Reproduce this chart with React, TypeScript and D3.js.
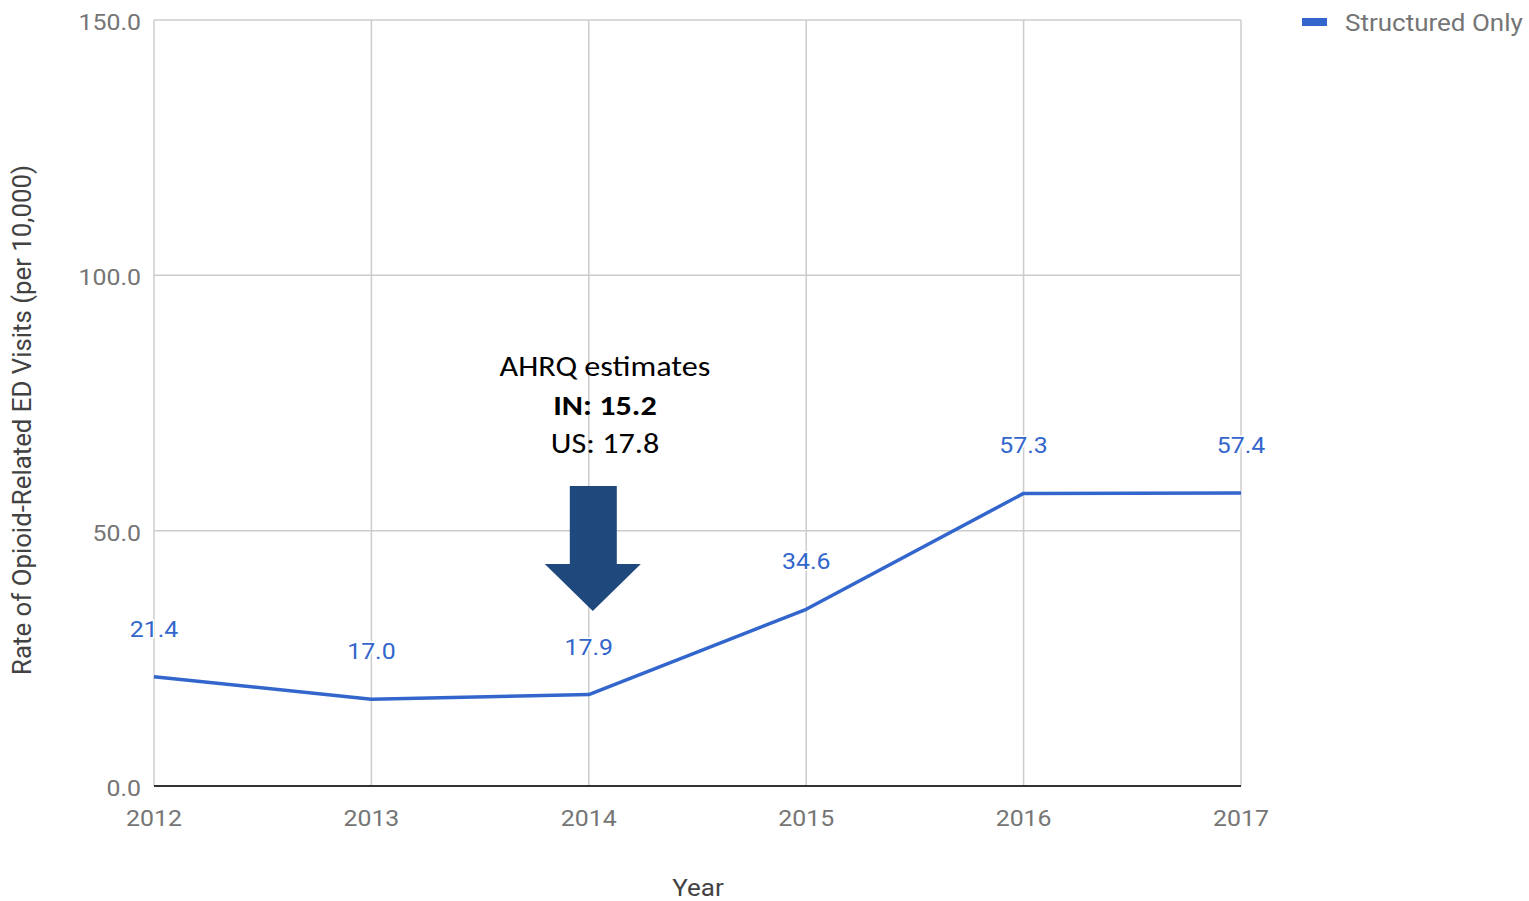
import React from "react";
import * as d3 from "d3";

const years = [2012, 2013, 2014, 2015, 2016, 2017];
const structuredOnly = [21.4, 17.0, 17.9, 34.6, 57.3, 57.4];
const yTicks = [0, 50, 100, 150];
const seriesName = "Structured Only";
const annotationLines = ["AHRQ estimates", "IN: 15.2", "US: 17.8"];

const SX = 1.13;

function T({ x, y, children, ...rest }: any) {
  return (
    <text transform={`translate(${x},${y}) scale(${SX},1)`} {...rest}>
      {children}
    </text>
  );
}

export default function App() {
  const W = 1529, H = 901;
  const left = 154, right = 1241, top = 20, bottom = 786;
  const x = d3.scalePoint<number>().domain(years).range([left, right]);
  const y = d3.scaleLinear().domain([0, 150]).range([bottom, top]);
  const line = d3.line<number>().x((_, i) => x(years[i])!).y((d) => y(d));
  const font = "Roboto, sans-serif";
  const blue = "#3366cc";
  const ax = x(2014)! + 4;
  return (
    <svg width={W} height={H} style={{ position: "absolute", left: 0, top: 0 }}>
      <rect width={W} height={H} fill="#fff" />
      {yTicks.map((t) => (
        <g key={t}>
          {t !== 0 && <line x1={left} x2={right} y1={y(t)} y2={y(t)} stroke="#cccccc" strokeWidth={1.5} />}
          <T x={141} y={y(t) + 10} textAnchor="end" fontFamily={font} fontSize={22} fill="#757575">
            {t.toFixed(1)}
          </T>
        </g>
      ))}
      {years.map((yr) => (
        <g key={yr}>
          <line x1={x(yr)} x2={x(yr)} y1={top} y2={bottom} stroke="#cccccc" strokeWidth={1.5} />
          <T x={x(yr)} y={826} textAnchor="middle" fontFamily={font} fontSize={22} fill="#757575">
            {yr}
          </T>
        </g>
      ))}
      <line x1={left} x2={right} y1={bottom} y2={bottom} stroke="#333" strokeWidth={2} />
      <path d={line(structuredOnly) || ""} fill="none" stroke={blue} strokeWidth={3.5} strokeLinejoin="round" />
      {structuredOnly.map((v, i) => (
        <T key={i} x={x(years[i])} y={y(v) - 40} textAnchor="middle" fontFamily={font} fontSize={22} fill={blue}
          stroke="#fff" strokeWidth={3} paintOrder="stroke">
          {v.toFixed(1)}
        </T>
      ))}
      <T x={698} y={896} textAnchor="middle" fontFamily={font} fontSize={23} fill="#424242">Year</T>
      <text transform={`translate(31,${(top + bottom) / 2 + 17}) rotate(-90)`} textAnchor="middle" fontFamily={font} fontSize={25.8} fill="#424242">
        Rate of Opioid-Related ED Visits (per 10,000)
      </text>
      <rect x={1302} y={18} width={25} height={8} fill={blue} />
      <T x={1345} y={31} fontFamily={font} fontSize={23} fill="#757575">{seriesName}</T>
      <path d={`M${ax - 23},486 L${ax + 24},486 L${ax + 24},564 L${ax + 48},564 L${ax},611 L${ax - 48},564 L${ax - 23},564 Z`} fill="#1f497d" />
      {annotationLines.map((s, i) => (
        <T key={i} x={605} y={376 + i * 38.5} textAnchor="middle" fontFamily="Carlito, 'Open Sans', sans-serif" fontSize={28.5}
          fontWeight={i === 1 ? "bold" : "normal"} fill="#000">
          {s}
        </T>
      ))}
    </svg>
  );
}
